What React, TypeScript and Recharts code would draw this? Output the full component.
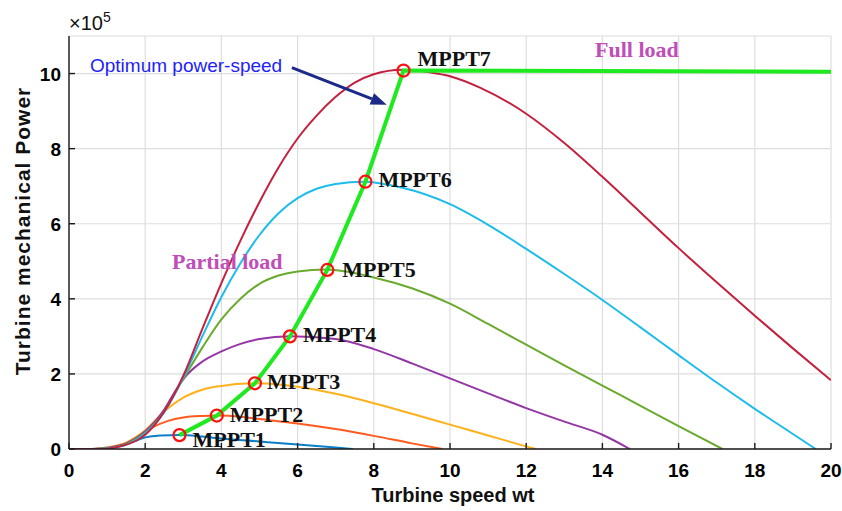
import { LineChart, Line, XAxis, YAxis, CartesianGrid, ReferenceLine } from "recharts";

// turbine speed (x) and mechanical power (x1e5), one pair per wind speed
const WT_1 = [0, 0.6, 1.0, 1.5, 1.8, 2.0, 2.4, 2.9, 3.5, 4.0, 5.0, 6.0, 7.0, 7.45];
const P_1 = [0, 0, 0.03, 0.13, 0.24, 0.31, 0.36, 0.37, 0.33, 0.28, 0.2, 0.12, 0.04, 0];

const WT_2 = [0, 0.6, 1.0, 1.5, 1.9, 2.2, 2.6, 3.0, 3.5, 3.9, 4.5, 5.0, 6.0, 7.0, 8.0, 9.0, 9.8];
const P_2 = [0, 0, 0.04, 0.16, 0.4, 0.58, 0.75, 0.84, 0.88, 0.89, 0.86, 0.8, 0.68, 0.53, 0.35, 0.15, 0];

const WT_3 = [0, 0.6, 1.0, 1.5, 2.0, 2.5, 3.0, 3.5, 4.0, 4.5, 4.9, 5.5, 6.0, 7.0, 8.0, 9.0, 10, 11, 12, 12.25];
const P_3 = [0, 0, 0.04, 0.17, 0.5, 1.0, 1.37, 1.58, 1.68, 1.74, 1.75, 1.72, 1.66, 1.47, 1.22, 0.94, 0.65, 0.36, 0.07, 0];

const WT_4 = [0, 0.6, 1.0, 1.5, 2.0, 2.5, 2.8, 3.1, 3.5, 4.0, 4.5, 5.0, 5.8, 7.0, 8.0, 9.0, 10, 11, 12, 13, 14, 14.72];
const P_4 = [0, 0, 0.03, 0.15, 0.47, 1.05, 1.56, 1.98, 2.33, 2.6, 2.8, 2.93, 3.0, 2.93, 2.66, 2.28, 1.88, 1.48, 1.09, 0.73, 0.38, 0];

const WT_5 = [0, 0.7, 1.0, 1.5, 2.0, 2.5, 3.0, 3.5, 4.0, 4.5, 5.0, 5.5, 6.0, 6.75, 8.0, 9.0, 10, 11, 12, 13, 14, 15, 16, 17.15];
const P_5 = [0, 0, 0.02, 0.13, 0.43, 1.0, 1.87, 2.7, 3.45, 4.0, 4.4, 4.62, 4.73, 4.78, 4.57, 4.28, 3.87, 3.33, 2.78, 2.23, 1.69, 1.15, 0.61, 0];

const WT_6 = [0, 0.7, 1.0, 1.5, 2.0, 2.5, 3.0, 3.5, 4.0, 4.5, 5.0, 5.5, 6.0, 6.5, 7.0, 7.75, 8.7, 10, 11, 12, 13, 14, 15, 16, 17, 18, 19, 19.6];
const P_6 = [0, 0, 0.02, 0.11, 0.41, 0.98, 1.9, 3.0, 4.05, 4.95, 5.7, 6.28, 6.68, 6.93, 7.06, 7.12, 6.97, 6.52, 5.97, 5.33, 4.66, 3.97, 3.24, 2.5, 1.77, 1.07, 0.4, 0];

const WT_7 = [0, 0.8, 1.3, 1.8, 2.0, 2.5, 3.0, 3.5, 4.0, 4.5, 5.0, 5.5, 6.0, 6.5, 7.0, 7.5, 8.0, 8.75, 9.5, 10, 10.8, 12, 13, 14, 15, 16, 17, 18, 19, 20];
const P_7 = [0, 0, 0.06, 0.24, 0.38, 1.0, 1.95, 3.2, 4.42, 5.55, 6.58, 7.5, 8.27, 8.88, 9.38, 9.76, 9.98, 10.1, 10.03, 9.93, 9.62, 8.93, 8.15, 7.25, 6.3, 5.35, 4.44, 3.55, 2.68, 1.83];

// maximum power points and the optimum curve
const MPPT_NAMES = ["MPPT1", "MPPT2", "MPPT3", "MPPT4", "MPPT5", "MPPT6", "MPPT7"];
const MPPT_WT = [2.9, 3.88, 4.88, 5.8, 6.78, 7.78, 8.78];
const MPPT_P = [0.37, 0.89, 1.75, 3.0, 4.77, 7.12, 10.08];
const FULL_LOAD_WT = 20;
const FULL_LOAD_P = 10.05;

const X_TICKS = [0, 2, 4, 6, 8, 10, 12, 14, 16, 18, 20];
const Y_TICKS = [0, 2, 4, 6, 8, 10];

const COLORS = ["#0A7FC8", "#FF5A1F", "#FFB11B", "#9436A6", "#6AAA2E", "#1EBCEC", "#C4213F"];
// label offsets relative to each marker (text start, baseline)
const LABEL_DX = [13, 13, 12, 13, 15, 13, 14];
const LABEL_DY = [12, 6, 6, 6, 7, 5, -5];

const zip = (xs: number[], ys: number[]) => xs.map((x, i) => ({ x, y: ys[i] }));

const curves = [
  zip(WT_1, P_1),
  zip(WT_2, P_2),
  zip(WT_3, P_3),
  zip(WT_4, P_4),
  zip(WT_5, P_5),
  zip(WT_6, P_6),
  zip(WT_7, P_7),
];

const mppt = MPPT_WT.map((x, i) => ({ x, y: MPPT_P[i] }));
const optimum = [...mppt, { x: FULL_LOAD_WT, y: FULL_LOAD_P }];

const AXIS = "#1a1a1a";
const SANS = "Arial, 'Liberation Sans', sans-serif";
const SERIF = "'Times New Roman', 'Liberation Serif', serif";

const XTick = (props: any) => {
  const { x, y, payload } = props;
  return (
    <text x={x} y={y} dy={14} textAnchor="middle" fontFamily={SANS} fontWeight={700} fontSize={19} fill="#000">
      {payload.value}
    </text>
  );
};

const YTick = (props: any) => {
  const { x, y, payload } = props;
  return (
    <text x={x} y={y} dy={7} textAnchor="end" fontFamily={SANS} fontWeight={700} fontSize={19} fill="#000">
      {payload.value}
    </text>
  );
};

const MpptLabel = (props: any) => {
  const { x, y, index } = props;
  return (
    <text x={x + LABEL_DX[index]} y={y + LABEL_DY[index]} fontFamily={SERIF} fontWeight={700} fontSize={22} fill="#111">
      {MPPT_NAMES[index]}
    </text>
  );
};

const Arrow = (props: any) => {
  const { x1, y1, x2, y2 } = props;
  const ang = Math.atan2(y2 - y1, x2 - x1);
  const len = 16;
  const half = 6;
  const bx = x2 - len * Math.cos(ang);
  const by = y2 - len * Math.sin(ang);
  const px = -Math.sin(ang) * half;
  const py = Math.cos(ang) * half;
  return (
    <g>
      <line x1={x1} y1={y1} x2={bx} y2={by} stroke="#1B2A86" strokeWidth={3} />
      <polygon points={`${x2},${y2} ${bx + px},${by + py} ${bx - px},${by - py}`} fill="#1B2A86" />
    </g>
  );
};

export default function App() {
  return (
    <div style={{ position: "absolute", left: 0, top: 0, width: 842, height: 511, background: "#fff" }}>
      <LineChart width={842} height={511} margin={{ top: 36, right: 11, bottom: 0, left: 0 }}>
        <CartesianGrid stroke="#dedede" strokeWidth={1.2} />
        <XAxis
          dataKey="x"
          type="number"
          domain={[0, 20]}
          ticks={X_TICKS}
          height={62}
          stroke={AXIS}
          strokeWidth={1.4}
          tickSize={-6}
          tickMargin={20}
          tick={<XTick />}
          allowDataOverflow
        />
        <XAxis
          xAxisId="top"
          orientation="top"
          type="number"
          domain={[0, 20]}
          ticks={X_TICKS}
          height={0}
          stroke={AXIS}
          strokeWidth={1.4}
          tickSize={-6}
          tickFormatter={() => ""}
        />
        <YAxis
          type="number"
          domain={[0, 11]}
          ticks={Y_TICKS}
          width={69}
          stroke={AXIS}
          strokeWidth={1.4}
          tickSize={-6}
          tickMargin={14}
          tick={<YTick />}
          allowDataOverflow
        />
        <YAxis
          yAxisId="right"
          orientation="right"
          type="number"
          domain={[0, 11]}
          ticks={Y_TICKS}
          width={0}
          stroke={AXIS}
          strokeWidth={1.4}
          tickSize={-6}
          tickFormatter={() => ""}
        />

        {curves.map((pts, i) => (
          <Line
            key={i}
            data={pts}
            dataKey="y"
            type="monotone"
            stroke={COLORS[i]}
            strokeWidth={2}
            dot={false}
            isAnimationActive={false}
          />
        ))}

        <Line
          data={optimum}
          dataKey="y"
          type="linear"
          stroke="#1FEA1F"
          strokeWidth={4}
          dot={false}
          isAnimationActive={false}
        />
        <Line
          data={mppt}
          dataKey="y"
          stroke="none"
          dot={{ r: 6, stroke: "#FF1010", strokeWidth: 2.2, fill: "none" }}
          label={<MpptLabel />}
          isAnimationActive={false}
        />

        <ReferenceLine
          segment={[
            { x: 5.85, y: 10.16 },
            { x: 8.34, y: 9.17 },
          ]}
          ifOverflow="visible"
          shape={<Arrow />}
        />
      </LineChart>

      <div
        style={{
          position: "absolute",
          left: 69,
          top: 9,
          fontFamily: SANS,
          fontSize: 20,
          color: "#111",
          whiteSpace: "nowrap",
        }}
      >
        ×10<sup style={{ fontSize: 14, verticalAlign: 8 }}>5</sup>
      </div>

      <div
        style={{
          position: "absolute",
          left: 90,
          top: 55,
          fontFamily: SANS,
          fontSize: 19,
          color: "#2222FF",
          whiteSpace: "nowrap",
        }}
      >
        Optimum power-speed
      </div>

      <div
        style={{
          position: "absolute",
          left: 595,
          top: 37,
          fontFamily: SERIF,
          fontWeight: 700,
          fontSize: 22,
          color: "#C04DB8",
          whiteSpace: "nowrap",
        }}
      >
        Full load
      </div>

      <div
        style={{
          position: "absolute",
          left: 172,
          top: 249,
          fontFamily: SERIF,
          fontWeight: 700,
          fontSize: 22,
          color: "#C04DB8",
          whiteSpace: "nowrap",
        }}
      >
        Partial load
      </div>

      <div
        style={{
          position: "absolute",
          left: 23,
          top: 231,
          transform: "translate(-50%, -50%) rotate(-90deg)",
          fontFamily: SANS,
          fontWeight: 700,
          fontSize: 21,
          letterSpacing: 1,
          color: "#111",
          whiteSpace: "nowrap",
        }}
      >
        Turbine mechanical Power
      </div>

      <div
        style={{
          position: "absolute",
          left: 453,
          top: 495,
          transform: "translate(-50%, -50%)",
          fontFamily: SANS,
          fontWeight: 700,
          fontSize: 20,
          color: "#111",
          whiteSpace: "nowrap",
        }}
      >
        Turbine speed wt
      </div>
    </div>
  );
}
